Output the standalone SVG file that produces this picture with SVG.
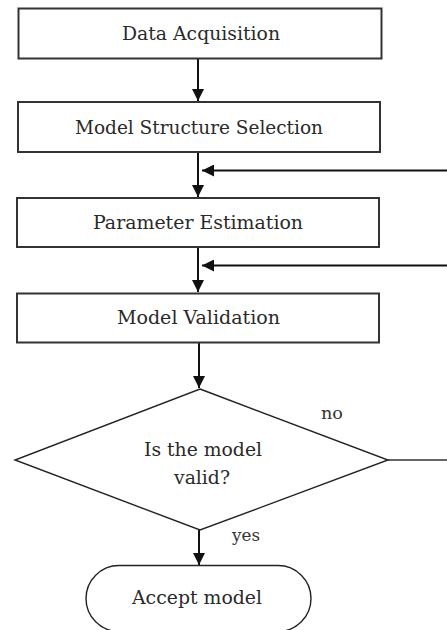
<svg xmlns="http://www.w3.org/2000/svg" width="447" height="630" viewBox="0 0 447 630">
<defs>
<marker id="ah" markerUnits="userSpaceOnUse" markerWidth="12" markerHeight="12" refX="12" refY="6" orient="auto">
<path d="M0,0 L12,6 L0,12 z" fill="#111"/>
</marker>
<style>
.box{fill:#fff;stroke:#333;stroke-width:2}
.dia{fill:#fff;stroke:#222;stroke-width:1.4}
.t{font-family:"DejaVu Serif","Liberation Serif",serif;font-size:18px;fill:#2a2a2a;text-anchor:middle}
.s{font-family:"DejaVu Serif","Liberation Serif",serif;font-size:16px;fill:#333;text-anchor:middle}
.c{fill:none;stroke:#111;stroke-width:2}
</style>
</defs>
<rect width="447" height="630" fill="#fff"/>
<g id="connectors">
<line class="c" x1="198" y1="58" x2="198" y2="101" marker-end="url(#ah)"/>
<line class="c" x1="198" y1="152" x2="198" y2="197" marker-end="url(#ah)"/>
<line class="c" x1="447" y1="170.5" x2="202" y2="170.5" marker-end="url(#ah)"/>
<line class="c" x1="198" y1="247" x2="198" y2="292" marker-end="url(#ah)"/>
<line class="c" x1="447" y1="265.5" x2="202" y2="265.5" marker-end="url(#ah)"/>
<line class="c" x1="199" y1="342" x2="199" y2="388" marker-end="url(#ah)"/>
<line class="c" x1="388" y1="460" x2="447" y2="460" style="stroke:#666"/>
<line class="c" x1="199" y1="530" x2="199" y2="565" marker-end="url(#ah)"/>
<text class="s" x="332" y="419" textLength="22" lengthAdjust="spacingAndGlyphs">no</text>
<text class="s" x="246" y="541" textLength="28" lengthAdjust="spacingAndGlyphs">yes</text>
</g>
<g id="data-acquisition">
<rect class="box" x="18.5" y="8.5" width="363" height="50"/>
<text class="t" x="201" y="39.5" textLength="158" lengthAdjust="spacingAndGlyphs">Data Acquisition</text>
</g>
<g id="model-structure-selection">
<rect class="box" x="18" y="102" width="362" height="50"/>
<text class="t" x="199" y="134" textLength="248" lengthAdjust="spacingAndGlyphs">Model Structure Selection</text>
</g>
<g id="parameter-estimation">
<rect class="box" x="17" y="198" width="362" height="49"/>
<text class="t" x="198" y="229" textLength="210" lengthAdjust="spacingAndGlyphs">Parameter Estimation</text>
</g>
<g id="model-validation">
<rect class="box" x="17" y="293.5" width="362" height="49"/>
<text class="t" x="198.5" y="324" textLength="163" lengthAdjust="spacingAndGlyphs">Model Validation</text>
</g>
<g id="decision">
<polygon class="dia" points="200,389 388,460 200,530 15,460"/>
<text class="t" x="203" y="456" textLength="118" lengthAdjust="spacingAndGlyphs">Is the model</text>
<text class="t" x="202" y="484" textLength="56" lengthAdjust="spacingAndGlyphs">valid?</text>
</g>
<g id="accept-model">
<rect class="dia" x="86" y="565.5" width="225" height="66" rx="33" ry="33"/>
<text class="t" x="197" y="604" textLength="130" lengthAdjust="spacingAndGlyphs">Accept model</text>
</g>
</svg>
